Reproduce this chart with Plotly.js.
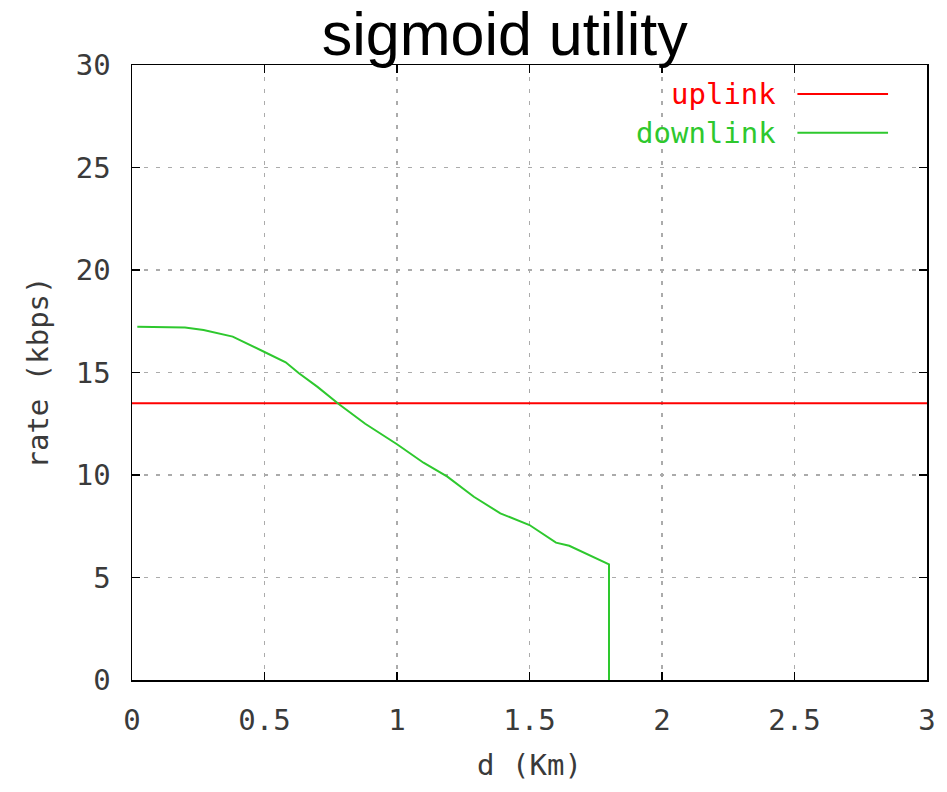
<!DOCTYPE html>
<html>
<head>
<meta charset="utf-8">
<script src="https://cdn.plot.ly/plotly-3.0.1.min.js"></script>
<style>
  html, body { margin: 0; padding: 0; background: #fff; }
  #chart { width: 947px; height: 792px; }
</style>
</head>
<body>
<div id="chart"></div>
<script>
// Distance from the base station (km) and achievable rate (kbps)
const uplinkD = [0, 3];
const uplinkRate = [13.5, 13.5];

const downlinkD = [0.02, 0.1, 0.2, 0.27, 0.38, 0.5, 0.58, 0.63, 0.7, 0.78, 0.88,
                   1.0, 1.1, 1.19, 1.29, 1.39, 1.5, 1.6, 1.65, 1.8, 1.8];
const downlinkRate = [17.23, 17.23, 17.2, 17.07, 16.75, 16.0, 15.5, 14.96, 14.3, 13.46, 12.5,
                      11.5, 10.6, 9.92, 8.94, 8.13, 7.56, 6.7, 6.55, 5.64, 0];

const xTicks = [0, 0.5, 1, 1.5, 2, 2.5, 3];
const xTickText = ["0", "0.5", "1", "1.5", "2", "2.5", "3"];
const yTicks = [0, 5, 10, 15, 20, 25, 30];
const yTickText = ["0", "5", "10", "15", "20", "25", "30"];

const seriesNames = ["uplink", "downlink"];
const seriesColors = ["#ff0000", "#2ec82e"];

const mono = "DejaVu Sans Mono, monospace";
const textColor = "#3a3a3a";

const traces = [
  { x: uplinkD, y: uplinkRate, mode: "lines", name: seriesNames[0],
    line: { color: seriesColors[0], width: 2 }, showlegend: false },
  { x: downlinkD, y: downlinkRate, mode: "lines", name: seriesNames[1],
    line: { color: seriesColors[1], width: 2 }, showlegend: false }
];

// gnuplot-style key: label on the left, line sample on the right
const keyY = [0.953, 0.89];
const annotations = seriesNames.map((n, i) => ({
  xref: "paper", yref: "paper", x: 0.812, y: keyY[i],
  xanchor: "right", yanchor: "middle", showarrow: false,
  text: n, font: { family: mono, size: 29, color: seriesColors[i] }
}));
const shapes = seriesNames.map((n, i) => ({
  type: "line", xref: "paper", yref: "paper",
  x0: 0.837, x1: 0.951, y0: keyY[i], y1: keyY[i],
  line: { color: seriesColors[i], width: 2 }
}));

const axisCommon = {
  showline: true, linecolor: "#000", linewidth: 1.5, mirror: "ticks",
  ticks: "inside", ticklen: 8, tickwidth: 1.5, tickcolor: "#000",
  showgrid: true, gridcolor: "#ababab", gridwidth: 1.6, griddash: "4px,8px",
  zeroline: false, tickmode: "array",
  tickfont: { family: mono, size: 29, color: textColor }
};

const layout = {
  width: 947, height: 792,
  margin: { l: 132, r: 20, t: 65, b: 112 },
  paper_bgcolor: "#fff", plot_bgcolor: "#fff",
  title: {
    text: "sigmoid utility",
    font: { family: "Liberation Sans, Arial, sans-serif", size: 61, color: "#000" },
    xref: "container", yref: "container", x: 0.533, xanchor: "center",
    y: 0.957, yanchor: "middle"
  },
  xaxis: Object.assign({}, axisCommon, {
    range: [0, 3], tickvals: xTicks, ticktext: xTickText, ticklabelstandoff: 14,
    title: { text: "d (Km)", font: { family: mono, size: 29, color: textColor }, standoff: 18 }
  }),
  yaxis: Object.assign({}, axisCommon, {
    range: [0, 30], tickvals: yTicks, ticktext: yTickText, ticklabelstandoff: 14,
    title: { text: "rate (kbps)", font: { family: mono, size: 29, color: textColor }, standoff: 18 }
  }),
  annotations: annotations,
  shapes: shapes
};

Plotly.newPlot("chart", traces, layout, { displayModeBar: false, staticPlot: true });
</script>
</body>
</html>
